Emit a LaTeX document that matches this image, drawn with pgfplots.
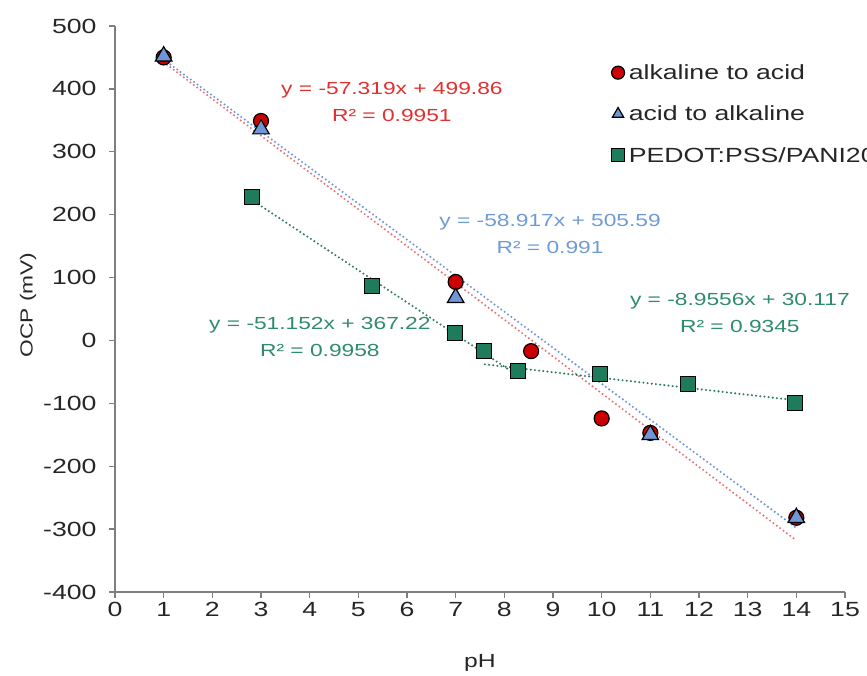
\documentclass[border=0pt]{standalone}
\usepackage{fontspec}
\setmainfont[FakeStretch=1.3]{Liberation Sans}
\usepackage{pgfplots}
\pgfplotsset{compat=1.18}
\definecolor{redfill}{HTML}{CC0000}
\definecolor{bluefill}{HTML}{7096D8}
\definecolor{greenfill}{HTML}{1E7B5C}
\definecolor{redtrend}{HTML}{E8747A}
\definecolor{bluetrend}{HTML}{6D95D6}
\definecolor{greentrend}{HTML}{2E7D5E}
\definecolor{redtxt}{HTML}{E0302F}
\definecolor{bluetxt}{HTML}{6E9BD6}
\definecolor{greentxt}{HTML}{2E8B6B}
\definecolor{axisgray}{HTML}{7F7F7F}
\definecolor{txt}{HTML}{262626}
\begin{document}
\begin{tikzpicture}
\useasboundingbox (-115pt,-84pt) rectangle (752pt,592pt);
\clip (-115pt,-84pt) rectangle (752pt,592pt);
\begin{axis}[
  at={(0pt,0pt)}, anchor=south west,
  scale only axis, width=730pt, height=566pt,
  xmin=0, xmax=15, ymin=-400, ymax=500,
  xtick={0,1,...,15}, ytick={-400,-300,...,500},
  axis x line*=bottom, axis y line*=left,
  axis line style={draw=axisgray, line width=1.3pt},
  tick style={draw=axisgray, line width=1.3pt},
  major tick length=6pt,
  tick align=outside,
  /pgf/number format/assume math mode=true,
  ticklabel style={font=\fontsize{20.5}{24}\selectfont, text=txt},
  yticklabel style={xshift=-9pt},
  xticklabel style={yshift=-1pt},
  clip=false,
  legend style={at={(axis description cs:0.679,0.935)}, anchor=north west,
    draw=none, fill=none, font=\fontsize{20.5}{24}\selectfont, text=txt,
    row sep=22pt, inner sep=0pt, nodes={inner sep=1.5pt}},
  legend cell align=left,
  legend image code/.code={\draw[#1, mark repeat=1, mark size=6.5pt] plot coordinates {(0pt,0pt)}; \path (-7pt,0pt) (9pt,0pt);},
]
% trendlines
\addplot[forget plot, redtrend, line width=2.3pt, line cap=round, dash pattern=on 0pt off 4.2pt] coordinates {(1,442.5) (14,-318)};
\addplot[forget plot, bluetrend, line width=2.3pt, line cap=round, dash pattern=on 0pt off 4.2pt] coordinates {(1,446.7) (14,-298)};
\addplot[forget plot, greentrend, line width=2.3pt, line cap=round, dash pattern=on 0pt off 4.2pt] coordinates {(2.8,224) (8.3,-57)};
\addplot[forget plot, greentrend, line width=2.3pt, line cap=round, dash pattern=on 0pt off 4.2pt] coordinates {(7.6,-38) (14,-95.3)};
% data
\addplot[only marks, mark=*, mark size=7.5pt, mark options={fill=redfill, draw=black, line width=1.2pt}]
  coordinates {(1,450) (3,349) (7,93) (8.55,-17) (10,-124) (11,-147) (14,-282)};
\addlegendentry{alkaline to acid}
\addplot[only marks, mark=triangle*, mark size=9.5pt, mark options={fill=bluefill, draw=black, line width=1.2pt}]
  coordinates {(1,452) (3,336) (7,68) (11,-150) (14,-282)};
\addlegendentry{acid to alkaline}
\addplot[only marks, mark=square*, mark size=7.5pt, mark options={fill=greenfill, draw=black, line width=1.2pt}]
  coordinates {(2.81,228) (5.28,86.6) (6.99,11.8) (7.58,-16.8) (8.28,-48.6) (9.97,-53.4) (11.77,-69.3) (13.97,-99.5)};
\addlegendentry{PEDOT:PSS/PANI20}
% equations
\node[align=center, text=redtxt, font=\fontsize{17.5}{27}\selectfont] at (axis cs:5.69,379) {y = -57.319x + 499.86\\R² = 0.9951};
\node[align=center, text=bluetxt, font=\fontsize{17.5}{27}\selectfont] at (axis cs:8.94,169) {y = -58.917x + 505.59\\R² = 0.991};
\node[align=center, text=greentxt, font=\fontsize{17.5}{27}\selectfont] at (axis cs:4.21,5.5) {y = -51.152x + 367.22\\R² = 0.9958};
\node[align=center, text=greentxt, font=\fontsize{17.5}{27}\selectfont] at (axis cs:12.84,43.6) {y = -8.9556x + 30.117\\R² = 0.9345};
\end{axis}
\node[text=txt, font=\fontsize{19}{22}\selectfont] at (365pt,-71pt) {pH};
\node[text=txt, rotate=90, font=\fontsize{17.5}{21}\selectfont] at (-87pt,287pt) {OCP (mV)};
\end{tikzpicture}
\end{document}
